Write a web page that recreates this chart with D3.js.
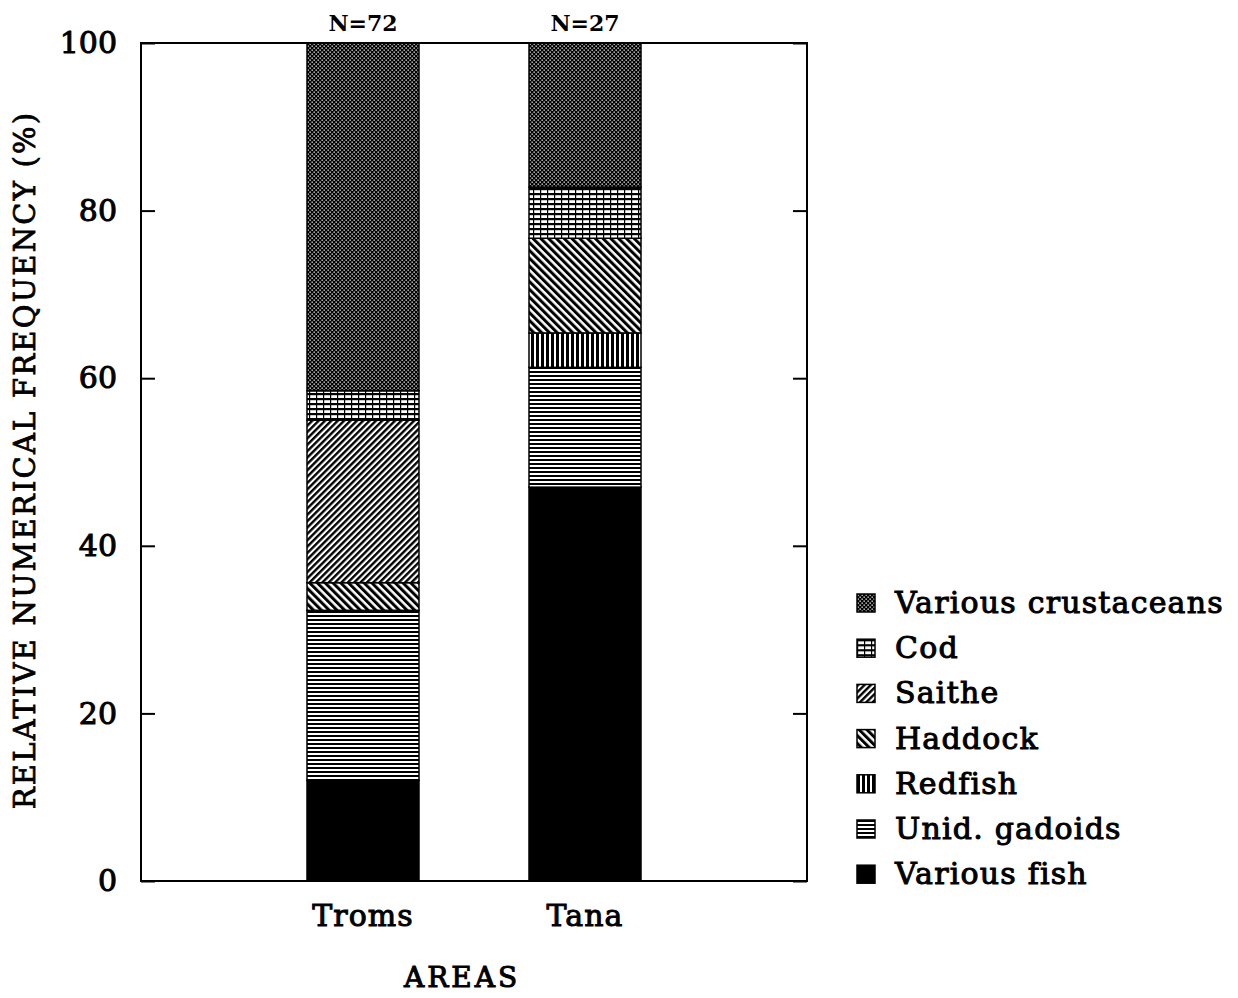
<!DOCTYPE html>
<html>
<head>
<meta charset="utf-8">
<script src="https://cdn.jsdelivr.net/npm/d3@7"></script>
<style>
  body { margin: 0; background: #fff; }
  text { font-family: "DejaVu Serif", serif; fill: #000; }
  .axis path, .axis line { stroke: #000; stroke-width: 2px; }
  .axis text { font-size: 30px; stroke: #000; stroke-width: 1px; }
</style>
</head>
<body>
<div id="chart-area"></div>
<script>
// data
var areas = ["Troms", "Tana"];
var sampleSizes = ["N=72", "N=27"];
var preyTypes = ["Various fish", "Unid. gadoids", "Redfish", "Haddock", "Saithe", "Cod", "Various crustaceans"];
var tromsValues = [12.0, 20.3, 0, 3.3, 19.4, 3.5, 41.5];
var tanaValues  = [47.0, 14.3, 4.1, 11.3, 0, 6.1, 17.2];
var yTicks = [0, 20, 40, 60, 80, 100];

var margin = {left: 141, right: 431, top: 43, bottom: 117};
var width = 1238 - margin.left - margin.right;
var height = 998 - margin.top - margin.bottom;

var rows = [tromsValues, tanaValues].map(function(vals, i){
    var r = {area: areas[i]};
    preyTypes.forEach(function(p, j){ r[p] = vals[j]; });
    return r;
});

var x = d3.scalePoint().domain(areas).range([0, width]).padding(1);
var y = d3.scaleLinear().domain([0, 100]).range([height, 0]);
var barWidth = 112;

var svg = d3.select("#chart-area").append("svg")
    .attr("width", 1238).attr("height", 998);

// patterns
var defs = svg.append("defs");
function pat(id, w, h, transform){
    var p = defs.append("pattern").attr("id", id)
        .attr("patternUnits", "userSpaceOnUse")
        .attr("width", w).attr("height", h);
    if (transform) p.attr("patternTransform", transform);
    return p;
}
// crustaceans: dark with white dots
var pc = pat("p-crust", 4, 4);
pc.append("rect").attr("width", 4).attr("height", 4).attr("fill", "#000");
pc.append("rect").attr("x", 0.5).attr("y", 0.5).attr("width", 1.3).attr("height", 1.3).attr("fill", "#fff");
pc.append("rect").attr("x", 2.5).attr("y", 2.5).attr("width", 1.3).attr("height", 1.3).attr("fill", "#fff");
// cod: grid
var pg = pat("p-cod", 7, 5);
pg.append("rect").attr("width", 7).attr("height", 5).attr("fill", "#fff");
pg.append("rect").attr("y", 0).attr("width", 7).attr("height", 2.2).attr("fill", "#000");
pg.append("rect").attr("x", 0).attr("width", 1.2).attr("height", 5).attr("fill", "#000");
// saithe: "/" lines
var ps = pat("p-saithe", 4.5, 4.5, "rotate(45)");
ps.append("rect").attr("width", 4.5).attr("height", 4.5).attr("fill", "#fff");
ps.append("rect").attr("width", 2.4).attr("height", 4.5).attr("fill", "#000");
// haddock: "\" lines
var ph = pat("p-haddock", 5.5, 5.5, "rotate(-45)");
ph.append("rect").attr("width", 5.5).attr("height", 5.5).attr("fill", "#fff");
ph.append("rect").attr("width", 3).attr("height", 5.5).attr("fill", "#000");
// redfish: vertical lines
var pr = pat("p-redfish", 5, 5);
pr.append("rect").attr("width", 5).attr("height", 5).attr("fill", "#fff");
pr.append("rect").attr("width", 3).attr("height", 5).attr("fill", "#000");
// unid gadoids: horizontal lines
var pu = pat("p-gadoids", 4, 4);
pu.append("rect").attr("width", 4).attr("height", 4).attr("fill", "#fff");
pu.append("rect").attr("width", 4).attr("height", 2).attr("fill", "#000");

var fills = {
    "Various fish": "#000",
    "Unid. gadoids": "url(#p-gadoids)",
    "Redfish": "url(#p-redfish)",
    "Haddock": "url(#p-haddock)",
    "Saithe": "url(#p-saithe)",
    "Cod": "url(#p-cod)",
    "Various crustaceans": "url(#p-crust)"
};

var g = svg.append("g")
    .attr("transform", "translate(" + margin.left + "," + margin.top + ")");

// stacked bars
var series = d3.stack().keys(preyTypes)(rows);

g.selectAll(".layer")
    .data(series)
    .enter().append("g")
    .attr("class", "layer")
    .attr("fill", function(d){ return fills[d.key]; })
    .selectAll("rect")
    .data(function(d){ return d.filter(function(s){ return s[1] - s[0] > 0; }); })
    .enter().append("rect")
    .attr("x", function(d){ return x(d.data.area) - barWidth / 2; })
    .attr("y", function(d){ return y(d[1]); })
    .attr("width", barWidth)
    .attr("height", function(d){ return y(d[0]) - y(d[1]); })
    .attr("stroke", "#000")
    .attr("stroke-width", 1.5);

// frame
g.append("rect")
    .attr("width", width).attr("height", height)
    .attr("fill", "none").attr("stroke", "#000").attr("stroke-width", 2);

// axes
var leftAxis = d3.axisLeft(y).tickValues(yTicks).tickSize(-14).tickPadding(24);
g.append("g").attr("class", "axis").call(leftAxis)
    .call(function(a){ a.select(".domain").remove(); });

var rightAxis = d3.axisRight(y).tickValues(yTicks).tickSize(-14).tickFormat("");
g.append("g").attr("class", "axis")
    .attr("transform", "translate(" + width + ",0)")
    .call(rightAxis)
    .call(function(a){ a.select(".domain").remove(); });

// category labels
g.selectAll(".area-label")
    .data(areas)
    .enter().append("text")
    .attr("class", "area-label")
    .attr("x", function(d){ return x(d); })
    .attr("y", height + 45)
    .attr("text-anchor", "middle")
    .attr("font-size", "30px")
    .attr("stroke", "#000").attr("stroke-width", 1)
    .attr("letter-spacing", "1px")
    .text(function(d){ return d; });

// N labels
g.selectAll(".n-label")
    .data(areas)
    .enter().append("text")
    .attr("class", "n-label")
    .attr("x", function(d){ return x(d); })
    .attr("y", -12)
    .attr("text-anchor", "middle")
    .attr("font-size", "22px")
    .attr("font-weight", "bold")
    .text(function(d, i){ return sampleSizes[i]; });

// axis labels
g.append("text")
    .attr("x", width / 2 - 12)
    .attr("y", height + 106)
    .attr("text-anchor", "middle")
    .attr("font-size", "28px")
    .attr("letter-spacing", "3px")
    .attr("stroke", "#000").attr("stroke-width", 1)
    .text("AREAS");

g.append("text")
    .attr("transform", "rotate(-90)")
    .attr("x", -(height / 2) + 2)
    .attr("y", -106)
    .attr("text-anchor", "middle")
    .attr("font-size", "29px")
    .attr("letter-spacing", "2.2px")
    .attr("stroke", "#000").attr("stroke-width", 0.8)
    .text("RELATIVE NUMERICAL FREQUENCY (%)");

// legend
var legend = svg.append("g").attr("transform", "translate(857, 594)");
preyTypes.slice().reverse().forEach(function(p, i){
    var row = legend.append("g").attr("transform", "translate(0," + (i * 45.2) + ")");
    row.append("rect")
        .attr("width", 18).attr("height", 18)
        .attr("fill", fills[p])
        .attr("stroke", "#000").attr("stroke-width", 1.5);
    row.append("text")
        .attr("x", 38).attr("y", 19)
        .attr("font-size", "30px")
        .attr("letter-spacing", "1.2px")
        .attr("stroke", "#000").attr("stroke-width", 1)
        .text(p);
});
</script>
</body>
</html>
